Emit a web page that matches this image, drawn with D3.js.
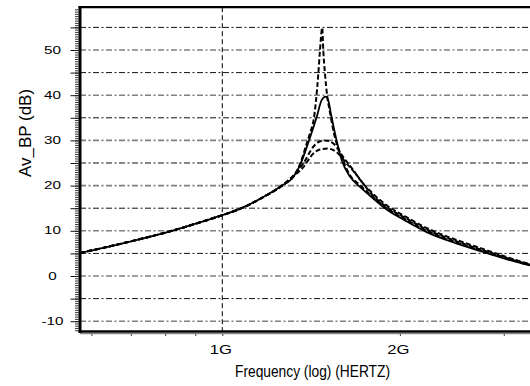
<!DOCTYPE html>
<html><head><meta charset="utf-8">
<script src="https://cdn.jsdelivr.net/npm/d3@7"></script>
<style>
body{margin:0;background:#fff}
svg{display:block}
text{font-family:"Liberation Sans",Arial,Helvetica,sans-serif;fill:#000}
</style>
</head><body>
<svg id="chart" width="530" height="386"></svg>
<script>
// ---- data (frequency in GHz, gain in dB) ----
const xTickValues = [0.6, 0.7, 0.8, 0.9, 1, 2, 3];
const xTickLabels = ["", "", "", "", "1G", "2G", ""];
const yLabelValues = [-10, 0, 10, 20, 30, 40, 50];
const yGridValues = [-10, -5, 0, 5, 10, 15, 20, 25, 30, 35, 40, 45, 50, 55];

const sharedLow = [[0.5739,5.1],[0.6867,7.4],[0.8218,10.0],[0.942,12.35],[1.0,13.45],[1.0786,15.0],[1.1676,17.3],[1.2627,20.0]];

const solidPeak = [[1.3194,21.9],[1.354,24.5],[1.4029,30.0],[1.4454,35.2],[1.4738,38.9],[1.4971,39.7],[1.512,38.9],[1.529,35.7],[1.562,30.0],[1.594,25.6],[1.646,22.0],[1.7118,19.7],[1.8003,17.2],[1.8993,14.7],[2.0399,12.3],[2.2204,9.7],[2.4985,7.15],[2.8424,4.85],[3.0735,3.5],[3.3231,2.35]];

const highQPeak = [[1.3194,22.0],[1.354,24.7],[1.390,29.3],[1.4079,31.5],[1.43,35.0],[1.4416,38.8],[1.4547,44.8],[1.464,49.9],[1.4773,54.9],[1.4831,49.9],[1.493,44.8],[1.5066,39.6],[1.5185,37.0],[1.5465,31.5],[1.583,27.3],[1.646,22.3],[1.7118,20.1],[1.8003,17.5],[1.8993,15.0],[2.0399,12.6],[2.2204,10.0],[2.4985,7.4],[2.8424,5.0],[3.0735,3.6],[3.3231,2.4]];

const lowQAPeak = [[1.3023,21.5],[1.3722,24.9],[1.4267,28.6],[1.4584,29.7],[1.493,30.0],[1.5427,29.3],[1.6037,26.3],[1.6678,23.4],[1.7118,21.3],[1.8003,18.2],[1.8993,15.65],[2.0399,13.2],[2.2204,10.6],[2.4985,7.95],[2.8424,5.45],[3.0735,3.95],[3.3231,2.6]];

const lowQBPeak = [[1.3023,21.4],[1.3722,24.1],[1.4267,27.1],[1.464,28.0],[1.5077,28.2],[1.5629,27.4],[1.6248,24.9],[1.69,22.3],[1.7316,20.5],[1.8003,17.8],[1.8993,15.3],[2.0399,12.9],[2.2204,10.3],[2.4985,7.65],[2.8424,5.2],[3.0735,3.75],[3.3231,2.5]];

// ---- layout ----
const L = 80, R = 530, T = 7.2, B = 331.5;
const svg = d3.select("#chart");
const x = d3.scaleLog().domain([0.5739, 3.3231]).range([L, R]);
const y = d3.scaleLinear().domain([-12.28, 59.47]).range([B, T]);

svg.append("defs").append("clipPath").attr("id","clip")
  .append("rect").attr("x",L).attr("y",T).attr("width",R-L).attr("height",B-T);

// horizontal grid
svg.append("g").selectAll("line").data(yGridValues).join("line")
  .attr("x1", L).attr("x2", R)
  .attr("y1", d => y(d)).attr("y2", d => y(d))
  .attr("stroke", d => d % 10 === 0 ? "#808080" : "#111")
  .attr("stroke-width", d => d % 10 === 0 ? 1.6 : 1)
  .attr("stroke-dasharray", "6,2.5,2,2.5");

// vertical grid at 1G
svg.append("line")
  .attr("x1", x(1)).attr("x2", x(1)).attr("y1", T).attr("y2", B)
  .attr("stroke", "#000").attr("stroke-width", 1).attr("stroke-dasharray", "5,3");

// y minor/major ticks
const yMinor = d3.range(-12, 59.5, 0.5);
svg.append("g").attr("transform", `translate(${L-1.5},0)`)
  .call(d3.axisLeft(y).tickValues(yMinor).tickSize(3.5).tickFormat(""))
  .call(g => { g.select(".domain").remove(); g.selectAll("line").attr("stroke","#333"); });
svg.append("g").attr("transform", `translate(${L-1.5},0)`)
  .call(d3.axisLeft(y).tickValues(yGridValues).tickSize(8).tickFormat(""))
  .call(g => { g.select(".domain").remove(); g.selectAll("line").attr("stroke","#111"); });

// y labels
svg.append("g").selectAll("text").data(yLabelValues).join("text")
  .attr("transform", d => `translate(52.5,${y(d)}) scale(1.45,1)`)
  .attr("text-anchor","middle").attr("dominant-baseline","central")
  .attr("font-size", 10.5)
  .text(d => d);

// x ticks
svg.append("g").attr("transform", `translate(0,${B+1.5})`)
  .call(d3.axisBottom(x).tickValues(xTickValues).tickSize(3).tickFormat(""))
  .call(g => { g.select(".domain").remove(); g.selectAll("line").attr("stroke","#333"); });

// x labels
svg.append("g").selectAll("text").data(xTickValues.filter((d,i)=>xTickLabels[i]!=="")).join("text")
  .attr("transform", d => `translate(${x(d)-1.5},353.5) scale(1.28,1)`)
  .attr("text-anchor","middle")
  .attr("font-size", 13)
  .text(d => xTickLabels[xTickValues.indexOf(d)]);

// curves
const line = d3.line().x(d => x(d[0])).y(d => y(d[1])).curve(d3.curveMonotoneX);
const series = [
  {data: sharedLow.concat(lowQBPeak), dash: "5,2.5", w: 2},
  {data: sharedLow.concat(lowQAPeak), dash: "5,2.5", w: 2},
  {data: sharedLow.concat(highQPeak), dash: "5,2.5", w: 2},
  {data: sharedLow.concat(solidPeak), dash: null, w: 1.8}
];
svg.append("g").attr("clip-path","url(#clip)").selectAll("path").data(series).join("path")
  .attr("d", d => line(d.data))
  .attr("fill","none").attr("stroke","#000")
  .attr("stroke-width", d => d.w)
  .attr("stroke-dasharray", d => d.dash);

// frame
svg.append("line").attr("x1",L).attr("x2",R).attr("y1",B+2.2).attr("y2",B+2.2)
  .attr("stroke","#888").attr("stroke-width",1.2);
svg.append("line").attr("x1",L-1.5).attr("x2",R).attr("y1",B).attr("y2",B)
  .attr("stroke","#000").attr("stroke-width",2.6);
svg.append("line").attr("x1",L).attr("x2",L).attr("y1",T-1).attr("y2",B+1.3)
  .attr("stroke","#000").attr("stroke-width",3);
svg.append("line").attr("x1",L-1.5).attr("x2",R).attr("y1",T).attr("y2",T)
  .attr("stroke","#000").attr("stroke-width",2.2);

// titles
svg.append("text").attr("x", 312.5).attr("y", 377)
  .attr("text-anchor","middle").attr("font-size",16)
  .attr("textLength",155).attr("lengthAdjust","spacingAndGlyphs")
  .text("Frequency (log) (HERTZ)");
svg.append("text").attr("transform","translate(30.5,133) rotate(-90)")
  .attr("text-anchor","middle").attr("font-size",17)
  .text("Av_BP (dB)");
</script>
</body></html>
